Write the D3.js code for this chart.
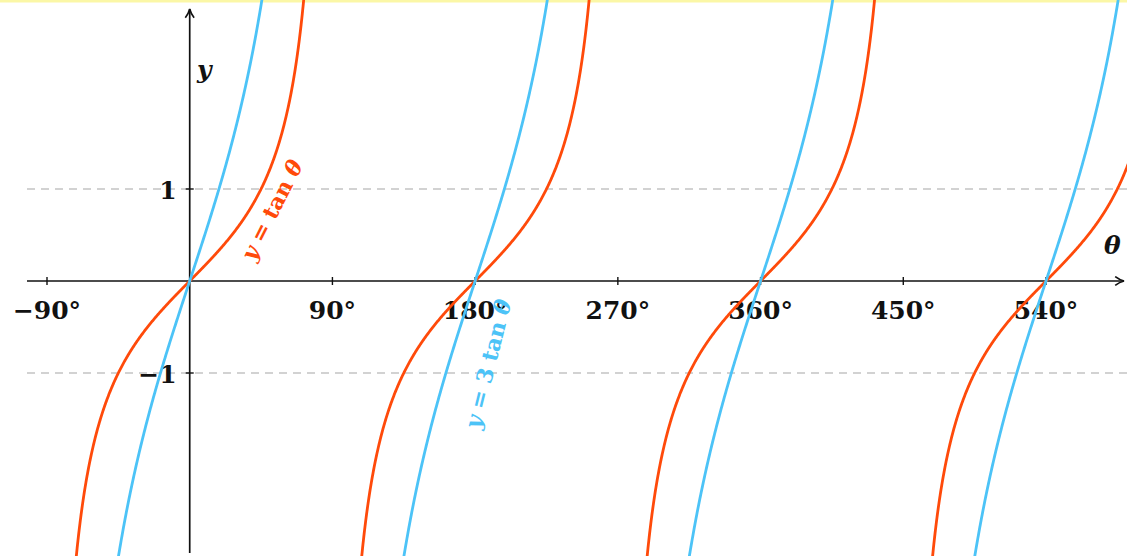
<!DOCTYPE html>
<html>
<head>
<meta charset="utf-8">
<script src="https://cdn.jsdelivr.net/npm/d3@7"></script>
<style>
  body { margin: 0; background: #fff; }
  svg { display: block; }
</style>
</head>
<body>
<div id="chart"></div>
<script>
// declarations
var width = 1127, height = 556;

// the two curves: y = k * tan(theta)
var curve_names = [['y', ' = tan ', 'θ'], ['y', ' = 3 tan ', 'θ']];
var curve_factors = [1, 3];
var curve_colors = ['#ff4a0a', '#4cc3f7'];

// tan branches (degrees) between asymptotes
var branch_starts = [-90, 90, 270, 450];

// ticks
var x_ticks = [-90, 90, 180, 270, 360, 450, 540];
var x_tick_labels = ['−90°', '90°', '180°', '270°', '360°', '450°', '540°'];
var y_ticks = [1, -1];
var y_tick_labels = ['1', '−1'];

// scales
var x = d3.scaleLinear().domain([-90, 540]).range([47, 1046]);
var y = d3.scaleLinear().domain([0, 1]).range([281, 189]);

//setup SVG
var svg = d3.select('#chart').append('svg')
    .attr('width', width).attr('height', height);

svg.append('defs').append('clipPath').attr('id', 'clip')
  .append('rect').attr('x', 0).attr('y', 0).attr('width', width).attr('height', height);

// arrow marker
svg.select('defs').append('marker')
    .attr('id', 'arrow')
    .attr('viewBox', '0 0 10 10')
    .attr('refX', 9).attr('refY', 5)
    .attr('markerWidth', 11).attr('markerHeight', 11)
    .attr('markerUnits', 'userSpaceOnUse')
    .attr('orient', 'auto')
  .append('path')
    .attr('d', 'M1,1 Q5,4 9,5 Q5,6 1,9')
    .attr('fill', 'none').attr('stroke', '#111').attr('stroke-width', 1.5);

// yellow strip at the top
svg.append('rect')
    .attr('x', 0).attr('y', 0).attr('width', width).attr('height', 2.5)
    .attr('fill', '#fbf7a6');

// dashed lines at y = +-1
svg.selectAll('.grid')
    .data(y_ticks).enter().append('line')
    .attr('class', 'grid')
    .attr('x1', 27).attr('x2', width)
    .attr('y1', function(d) { return y(d); })
    .attr('y2', function(d) { return y(d); })
    .attr('stroke', '#c4c4c4').attr('stroke-width', 1.6)
    .attr('stroke-dasharray', '8,6');

// axes
svg.append('line')
    .attr('x1', 27).attr('x2', 1124)
    .attr('y1', y(0)).attr('y2', y(0))
    .attr('stroke', '#111').attr('stroke-width', 1.7)
    .attr('marker-end', 'url(#arrow)');
svg.append('line')
    .attr('x1', x(0)).attr('x2', x(0))
    .attr('y1', 553).attr('y2', 9)
    .attr('stroke', '#111').attr('stroke-width', 1.7)
    .attr('marker-end', 'url(#arrow)');

// x ticks
svg.selectAll('.xtick')
    .data(x_ticks).enter().append('line')
    .attr('class', 'xtick')
    .attr('x1', function(d) { return x(d); })
    .attr('x2', function(d) { return x(d); })
    .attr('y1', y(0) - 4).attr('y2', y(0) + 4)
    .attr('stroke', '#111').attr('stroke-width', 1.4);

svg.selectAll('.xlabel')
    .data(x_ticks).enter().append('text')
    .attr('class', 'xlabel')
    .attr('x', function(d) { return x(d); })
    .attr('y', y(0) + 38)
    .attr('text-anchor', 'middle')
    .attr('font-family', 'DejaVu Serif')
    .attr('font-weight', 'bold')
    .attr('font-size', '25px')
    .attr('fill', '#111')
    .text(function(d, i) { return x_tick_labels[i]; });

// y ticks
svg.selectAll('.ytick')
    .data(y_ticks).enter().append('line')
    .attr('class', 'ytick')
    .attr('x1', x(0) - 4).attr('x2', x(0) + 4)
    .attr('y1', function(d) { return y(d); })
    .attr('y2', function(d) { return y(d); })
    .attr('stroke', '#111').attr('stroke-width', 1.4);

svg.selectAll('.ylabel')
    .data(y_ticks).enter().append('text')
    .attr('class', 'ylabel')
    .attr('x', x(0) - 13)
    .attr('y', function(d) { return y(d) + 10; })
    .attr('text-anchor', 'end')
    .attr('font-family', 'DejaVu Serif')
    .attr('font-weight', 'bold')
    .attr('font-size', '25px')
    .attr('fill', '#111')
    .text(function(d, i) { return y_tick_labels[i]; });

// axis names
svg.append('text')
    .attr('x', 197).attr('y', 78)
    .attr('font-family', 'DejaVu Serif')
    .attr('font-style', 'italic').attr('font-weight', 'bold')
    .attr('font-size', '25px').attr('fill', '#111')
    .text('y');
svg.append('text')
    .attr('x', 1104).attr('y', 254)
    .attr('font-family', 'DejaVu Serif')
    .attr('font-style', 'italic').attr('font-weight', 'bold')
    .attr('font-size', '25px').attr('fill', '#111')
    .text('θ');

// curves
var line = d3.line()
    .x(function(d) { return x(d[0]); })
    .y(function(d) { return y(d[1]); });

var plot = svg.append('g').attr('clip-path', 'url(#clip)');

curve_factors.forEach(function(k, ci) {
    branch_starts.forEach(function(b) {
        var pts = [];
        for (var t = b + 0.5; t < b + 180; t += 0.25) {
            var v = k * Math.tan(t * Math.PI / 180);
            if (Math.abs(v) < 4) pts.push([t, v]);
        }
        plot.append('path')
            .attr('d', line(pts))
            .attr('fill', 'none')
            .attr('stroke', curve_colors[ci])
            .attr('stroke-width', 2.8);
    });
});

// curve labels
var label_pos = [[272, 210, -63], [488, 364, -76]];
var labels = svg.selectAll('.clabel')
    .data(curve_names).enter().append('text')
    .attr('class', 'clabel')
    .attr('transform', function(d, i) {
        return 'translate(' + label_pos[i][0] + ',' + label_pos[i][1] + ') rotate(' + label_pos[i][2] + ')';
    })
    .attr('text-anchor', 'middle')
    .attr('dy', '0.35em')
    .attr('font-family', 'DejaVu Serif')
    .attr('font-weight', 'bold')
    .attr('font-size', '22px')
    .attr('fill', function(d, i) { return curve_colors[i]; });

labels.selectAll('tspan')
    .data(function(d) { return d; }).enter().append('tspan')
    .attr('font-style', function(d, i) { return i === 1 ? 'normal' : 'italic'; })
    .attr('xml:space', 'preserve')
    .style('white-space', 'pre')
    .text(function(d) { return d; });
</script>
</body>
</html>
